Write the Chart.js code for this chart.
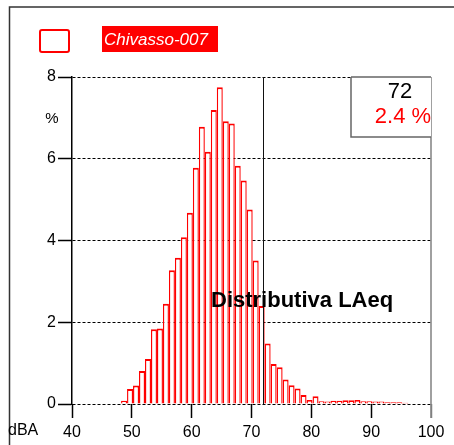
<!DOCTYPE html>
<html><head><meta charset="utf-8">
<script src="https://cdn.jsdelivr.net/npm/chart.js@4.4.1/dist/chart.umd.min.js"></script>
<style>html,body{margin:0;padding:0;background:#fff;overflow:hidden}</style>
</head><body>
<canvas id="c" width="454" height="445"></canvas>
<script>
// ---- data ----
const seriesName = 'Chivasso-007';
const chartTitle = 'Distributiva LAeq';
const xUnit = 'dBA';
const yUnit = '%';
const binStart = [48,49,50,51,52,53,54,55,56,57,58,59,60,61,62,63,64,65,66,67,68,69,70,71,
                  72,73,74,75,76,77,78,79,80,81,82,83,84,85,86,87,88,89,90,91,92,93,94,95];
const percent  = [0.08,0.37,0.45,0.81,1.10,1.83,1.85,2.45,3.27,3.58,4.08,4.68,5.78,6.78,6.17,7.19,7.75,6.92,6.86,5.83,5.47,4.76,3.51,2.40,
                  1.48,0.98,0.90,0.60,0.46,0.38,0.22,0.10,0.19,0.07,0.06,0.08,0.08,0.09,0.09,0.10,0.07,0.07,0.06,0.06,0.04,0.04,0.04,0.03];
const xTicks = [40,50,60,70,80,90,100];
const yTicks = [0,2,4,6,8];
const cursorDb = 72;
const cursorPct = 2.4;

// ---- style constants ----
const BIN_SHIFT = 0.7;
const RED = '#ff0000';
const FONT = '"Liberation Sans", Arial, sans-serif';

const deco = {
  id: 'deco',
  beforeDraw(chart) {
    const ctx = chart.ctx;
    ctx.save();
    ctx.fillStyle = '#fff';
    ctx.fillRect(0, 0, chart.width, chart.height);
    ctx.strokeStyle = '#333';
    ctx.lineWidth = 1.5;
    ctx.beginPath();
    ctx.moveTo(9.5, chart.height);
    ctx.lineTo(9.5, 7);
    ctx.lineTo(chart.width, 7);
    ctx.stroke();
    ctx.restore();
  },
  afterDatasetsDraw(chart) {
    const ctx = chart.ctx;
    const xs = chart.scales.x;
    const a = chart.chartArea;
    ctx.save();
    // right border
    const xr = xs.getPixelForValue(xTicks[xTicks.length - 1]);
    ctx.strokeStyle = '#808080';
    ctx.lineWidth = 1.5;
    ctx.beginPath();
    ctx.moveTo(xr, a.top);
    ctx.lineTo(xr, a.bottom + 14);
    ctx.stroke();
    // cursor line
    const xc = Math.round(xs.getPixelForValue(cursorDb)) + 0.5;
    ctx.strokeStyle = '#111';
    ctx.lineWidth = 1;
    ctx.beginPath();
    ctx.moveTo(xc, a.top);
    ctx.lineTo(xc, a.bottom);
    ctx.stroke();
    // value box
    const bx = a.right - 80, by = a.top, bw = 80, bh = 60;
    ctx.fillStyle = '#fff';
    ctx.fillRect(bx, by, bw, bh);
    ctx.strokeStyle = '#666';
    ctx.lineWidth = 1.5;
    ctx.beginPath();
    ctx.moveTo(bx, by);
    ctx.lineTo(bx + bw, by);
    ctx.moveTo(bx, by);
    ctx.lineTo(bx, by + bh);
    ctx.lineTo(bx + bw, by + bh);
    ctx.stroke();
    ctx.textAlign = 'center';
    ctx.textBaseline = 'middle';
    ctx.font = '22px ' + FONT;
    ctx.fillStyle = '#000';
    ctx.fillText(String(cursorDb), bx + 49, by + 15);
    ctx.fillStyle = RED;
    ctx.fillText(cursorPct.toFixed(1) + ' %', bx + 52, by + 40);
    // title
    ctx.textAlign = 'left';
    ctx.textBaseline = 'alphabetic';
    ctx.fillStyle = '#000';
    ctx.font = 'bold 22px ' + FONT;
    ctx.fillText(chartTitle, 211, 307);
    // units
    ctx.font = '15px ' + FONT;
    ctx.textAlign = 'center';
    ctx.textBaseline = 'middle';
    ctx.fillText(yUnit, 52, 119);
    ctx.font = '16px ' + FONT;
    ctx.textAlign = 'left';
    ctx.fillText(xUnit, 8, 431);
    // legend
    ctx.strokeStyle = RED;
    ctx.lineWidth = 2;
    ctx.fillStyle = '#fff';
    ctx.beginPath();
    ctx.roundRect(40, 30, 29, 22, 2);
    ctx.fill();
    ctx.stroke();
    ctx.fillStyle = RED;
    ctx.fillRect(102, 26, 116, 26);
    ctx.fillStyle = '#fff';
    ctx.font = 'italic 17px ' + FONT;
    ctx.textAlign = 'left';
    ctx.textBaseline = 'middle';
    ctx.fillText(seriesName, 104, 40);
    ctx.restore();
  }
};

new Chart(document.getElementById('c'), {
  type: 'bar',
  data: {
    datasets: [{
      label: seriesName,
      data: binStart.map((b, i) => ({ x: b + BIN_SHIFT, y: percent[i] })),
      backgroundColor: '#fff',
      borderColor: RED,
      borderWidth: { top: 2, left: 1.4, right: 1.4, bottom: 0 },
      borderSkipped: 'start',
      barPercentage: 1,
      categoryPercentage: 1,
      inflateAmount: 0
    }]
  },
  options: {
    responsive: false,
    animation: false,
    devicePixelRatio: 1,
    layout: { padding: { left: 0, right: 23, top: 77, bottom: 0 } },
    plugins: { legend: { display: false }, tooltip: { enabled: false } },
    scales: {
      x: {
        type: 'linear',
        min: 40, max: 100,
        offset: false,
        afterBuildTicks: s => { s.ticks = xTicks.map(v => ({ value: v })); },
        afterFit: s => { s.height = 41; },
        grid: {
          offset: false,
          drawOnChartArea: false,
          drawTicks: true,
          tickLength: 14,
          tickWidth: 1.5,
          tickColor: ctx => (ctx.tick && ctx.tick.value === 100) ? '#808080' : '#000'
        },
        border: { display: false },
        ticks: { color: '#000', font: { family: FONT, size: 16 }, padding: 5, maxRotation: 0 }
      },
      y: {
        min: 0, max: 8,
        afterBuildTicks: s => { s.ticks = yTicks.map(v => ({ value: v })); },
        afterFit: s => { s.width = 72; },
        grid: {
          color: '#000',
          lineWidth: 1,
          drawTicks: true,
          tickLength: 14,
          tickWidth: 1.5,
          tickColor: '#000',
          tickBorderDash: [1, 0]
        },
        border: { display: true, color: '#000', width: 1.5, dash: [3, 2] },
        ticks: { color: '#000', font: { family: FONT, size: 16 }, padding: 2 }
      }
    }
  },
  plugins: [deco]
});
</script>
</body></html>
